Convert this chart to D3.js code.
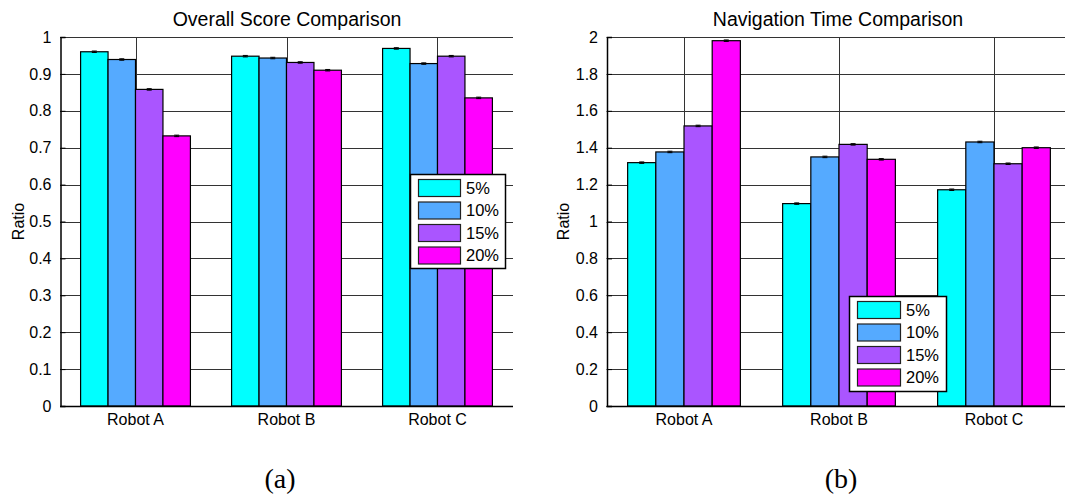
<!DOCTYPE html>
<html>
<head>
<meta charset="utf-8">
<script src="https://cdn.jsdelivr.net/npm/d3@7"></script>
<style>
  html, body { margin: 0; padding: 0; background: #fff; }
  svg { display: block; }
  text { font-family: "Liberation Sans", Arial, sans-serif; fill: #000; }
</style>
</head>
<body>
<svg id="chart" width="1065" height="495"></svg>
<script>
// ---------- data ----------
const categories = ["Robot A", "Robot B", "Robot C"];
const seriesNames = ["5%", "10%", "15%", "20%"];
const colors = ["#00FFFF", "#55AAFF", "#AA55FF", "#FF00FF"];

const scoreValues = [
  [0.960, 0.948, 0.969],   // 5%
  [0.939, 0.943, 0.928],   // 10%
  [0.858, 0.931, 0.948],   // 15%
  [0.732, 0.910, 0.835]    // 20%
];
const scoreErrors = [
  [0.002, 0.002, 0.002],
  [0.002, 0.002, 0.002],
  [0.002, 0.002, 0.002],
  [0.002, 0.002, 0.002]
];
const timeValues = [
  [1.319, 1.097, 1.172],   // 5%
  [1.377, 1.350, 1.431],   // 10%
  [1.518, 1.418, 1.313],   // 15%
  [1.980, 1.337, 1.400]    // 20%
];
const timeErrors = [
  [0.004, 0.004, 0.004],
  [0.004, 0.004, 0.004],
  [0.004, 0.004, 0.004],
  [0.004, 0.004, 0.004]
];
const scoreTicks = [0, 0.1, 0.2, 0.3, 0.4, 0.5, 0.6, 0.7, 0.8, 0.9, 1];
const scoreTickLabels = ["0", "0.1", "0.2", "0.3", "0.4", "0.5", "0.6", "0.7", "0.8", "0.9", "1"];
const timeTicks = [0, 0.2, 0.4, 0.6, 0.8, 1, 1.2, 1.4, 1.6, 1.8, 2];
const timeTickLabels = ["0", "0.2", "0.4", "0.6", "0.8", "1", "1.2", "1.4", "1.6", "1.8", "2"];

const svg = d3.select("#chart");

function drawPanel(opt) {
  const g = svg.append("g");
  const x0 = d3.scaleBand().domain(categories)
      .range([opt.left, opt.right])
      .paddingInner(0.2727).paddingOuter(0.1364);
  const x1 = d3.scaleBand().domain(d3.range(seriesNames.length))
      .range([0, x0.bandwidth()]).padding(0);
  const y = d3.scaleLinear().domain([0, opt.ymax]).range([opt.bottom, opt.top]);

  // horizontal grid
  g.append("g").selectAll("line").data(opt.ticks).join("line")
    .attr("x1", opt.left).attr("x2", opt.right)
    .attr("y1", d => Math.round(y(d)) + 0.5).attr("y2", d => Math.round(y(d)) + 0.5)
    .attr("stroke", "#333").attr("stroke-width", 1);
  // vertical grid at category centers
  g.append("g").selectAll("line").data(categories).join("line")
    .attr("x1", d => Math.round(x0(d) + x0.bandwidth() / 2) + 0.5)
    .attr("x2", d => Math.round(x0(d) + x0.bandwidth() / 2) + 0.5)
    .attr("y1", opt.top).attr("y2", opt.bottom)
    .attr("stroke", "#333").attr("stroke-width", 1);

  // bars
  const bars = [];
  opt.values.forEach((arr, s) => arr.forEach((v, c) => bars.push({s, c, v, e: opt.errors[s][c]})));
  g.append("g").selectAll("rect").data(bars).join("rect")
    .attr("x", d => x0(categories[d.c]) + x1(d.s))
    .attr("width", x1.bandwidth())
    .attr("y", d => y(d.v))
    .attr("height", d => y(0) - y(d.v))
    .attr("fill", d => colors[d.s])
    .attr("stroke", "#000").attr("stroke-width", 1.2);

  // error bars
  const eg = g.append("g").attr("stroke", "#000").attr("stroke-width", 1);
  bars.forEach(d => {
    const cx = x0(categories[d.c]) + x1(d.s) + x1.bandwidth() / 2;
    eg.append("line").attr("x1", cx).attr("x2", cx).attr("y1", y(d.v - d.e)).attr("y2", y(d.v + d.e));
    eg.append("line").attr("x1", cx - 2.5).attr("x2", cx + 2.5).attr("y1", y(d.v - d.e)).attr("y2", y(d.v - d.e));
    eg.append("line").attr("x1", cx - 2.5).attr("x2", cx + 2.5).attr("y1", y(d.v + d.e)).attr("y2", y(d.v + d.e));
  });

  // y axis
  const yAxis = d3.axisLeft(y).tickValues(opt.ticks)
      .tickFormat((d, i) => opt.tickLabels[i]).tickSize(-5).tickPadding(9);
  const ya = g.append("g").attr("transform", `translate(${opt.left + 0.5},0)`).call(yAxis);
  ya.select(".domain").attr("stroke", "#000").attr("stroke-width", 1.5);
  ya.selectAll(".tick line").attr("stroke", "#000");
  ya.selectAll("text").style("font-size", "16px").attr("fill", "#000")
    .style("font-family", "'Liberation Sans', Arial, sans-serif");

  // x axis
  const xAxis = d3.axisBottom(x0).tickSize(0).tickPadding(7);
  const xa = g.append("g").attr("transform", `translate(0,${opt.bottom + 0.5})`).call(xAxis);
  xa.select(".domain").attr("d", `M${opt.left},0H${opt.right}`).attr("stroke", "#000").attr("stroke-width", 1.5);
  xa.selectAll("text").style("font-size", "16px").attr("fill", "#000")
    .style("font-family", "'Liberation Sans', Arial, sans-serif");

  // title
  g.append("text").attr("x", opt.titleX).attr("y", 26)
    .attr("text-anchor", "middle").style("font-size", "19.5px").text(opt.title);
  // y label
  g.append("text").attr("transform", `translate(${opt.ylabX},${(opt.top + opt.bottom) / 2}) rotate(-90)`)
    .attr("text-anchor", "middle").style("font-size", "16px").text("Ratio");
  // subfigure label
  g.append("text").attr("x", opt.subX).attr("y", 488).attr("text-anchor", "middle")
    .style("font-family", "'Liberation Serif', 'Times New Roman', serif")
    .style("font-size", "28px").text(opt.sub);

  // legend
  const L = opt.legend;
  const lg = g.append("g").attr("transform", `translate(${L.x},${L.y})`);
  lg.append("rect").attr("x", 0.5).attr("y", 0.5).attr("width", L.w).attr("height", L.h)
    .attr("fill", "#fff").attr("stroke", "#000").attr("stroke-width", 1.5);
  seriesNames.forEach((name, i) => {
    lg.append("rect").attr("x", 8.5).attr("y", 5.5 + i * 22.5).attr("width", L.sw).attr("height", 17)
      .attr("fill", colors[i]).attr("stroke", "#222").attr("stroke-width", 1.2);
    lg.append("text").attr("x", L.sw + 14).attr("y", 14 + i * 22.5).attr("dy", "0.36em")
      .style("font-size", "16.5px").text(name);
  });
}

drawPanel({
  left: 60, right: 513, top: 37, bottom: 406, ymax: 1,
  ticks: scoreTicks, tickLabels: scoreTickLabels,
  values: scoreValues, errors: scoreErrors,
  title: "Overall Score Comparison", titleX: 287, ylabX: 24, subX: 280, sub: "(a)",
  legend: {x: 410, y: 174, w: 95, h: 94, sw: 42}
});
drawPanel({
  left: 606.5, right: 1071.5, top: 37, bottom: 406, ymax: 2,
  ticks: timeTicks, tickLabels: timeTickLabels,
  values: timeValues, errors: timeErrors,
  title: "Navigation Time Comparison", titleX: 838, ylabX: 569, subX: 841, sub: "(b)",
  legend: {x: 849, y: 296, w: 97, h: 95, sw: 43}
});
</script>
</body>
</html>
